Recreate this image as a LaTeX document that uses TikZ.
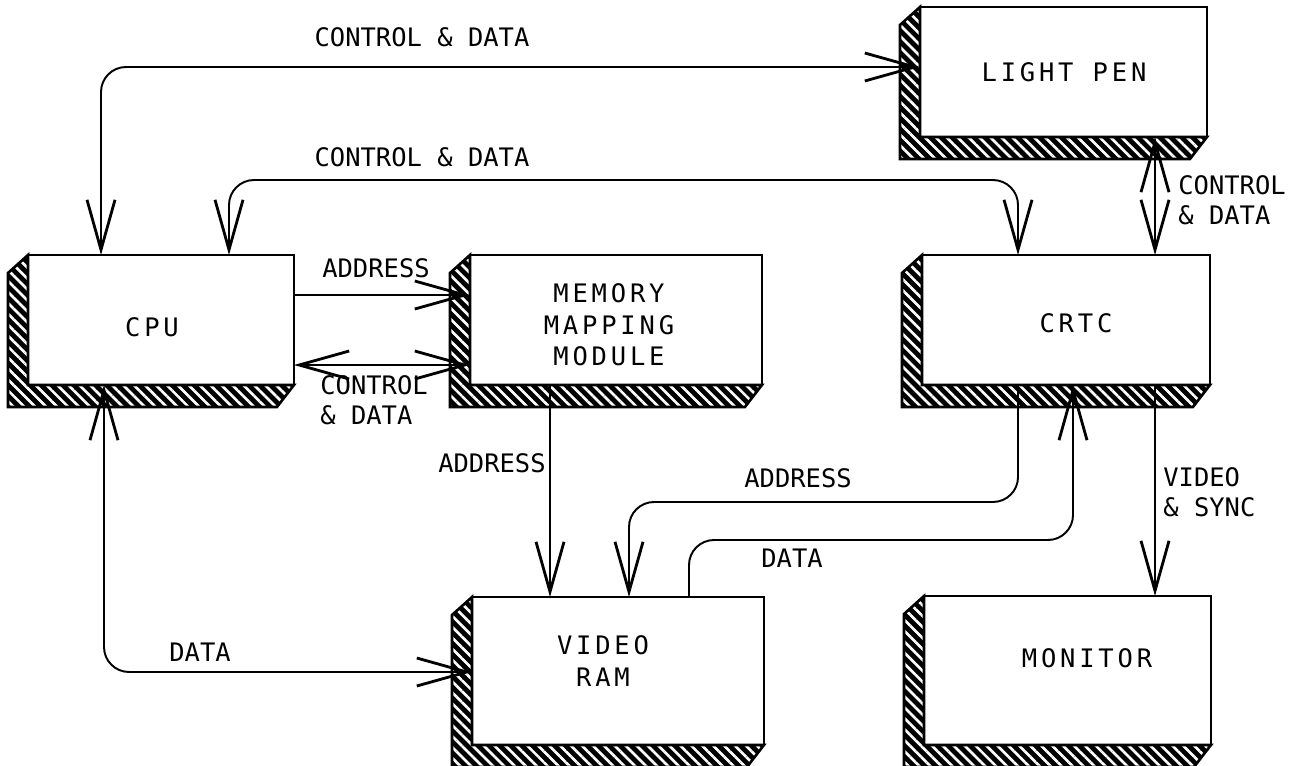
\documentclass[tikz,border=0pt]{standalone}
\usepackage{fontspec}
\usetikzlibrary{arrows.meta,patterns.meta}
\newfontfamily\lblfont{DejaVu Sans Mono}
\newfontfamily\boxfont[LetterSpace=15]{DejaVu Sans Mono}

\tikzset{
  block/.style={draw=black, line width=1.4pt, fill=white, inner sep=0pt,
    outer sep=0pt, anchor=north west},
  blocktext/.style={font=\boxfont\fontsize{14.5pt}{18pt}\selectfont,
    align=center, inner sep=0pt},
  lbl/.style={font=\lblfont\fontsize{14.5pt}{17pt}\selectfont,
    align=left, inner sep=0pt},
  hatch/.style={preaction={fill=black},
    pattern={Lines[angle=-45,distance=4.4pt,line width=1.5pt]},
    pattern color=white, draw=black, line width=1.5pt, line join=miter},
  conn/.style={line width=1.1pt, rounded corners=0.5cm,
    >={Straight Barb[length=1.0cm,width=0.56cm,line width=1.6pt]}},
}

% hatched depth on the left and bottom of a block
\newcommand\blockdepth[1]{%
  \path[hatch] (#1.north west) -- ([shift={(-20,18)}]#1.north west)
    -- ([shift={(-20,22)}]#1.south west) -- ([shift={(-17,22)}]#1.south east)
    -- (#1.south east) -- (#1.south west) -- cycle;}

\begin{document}
\begin{tikzpicture}[x=0.02cm, y=-0.02cm]
  \fill[white] (0,0) rectangle (1300,765);
  \useasboundingbox (0,0) rectangle (1300,765);

  % blocks
  \node[block, minimum width=5.32cm, minimum height=2.6cm]  (cpu)  at (28,255) {};
  \node[block, minimum width=5.84cm, minimum height=2.6cm]  (mmm)  at (470,255) {};
  \node[block, minimum width=5.76cm, minimum height=2.6cm]  (crtc) at (922,255) {};
  \node[block, minimum width=5.74cm, minimum height=2.6cm]  (pen)  at (920,7) {};
  \node[block, minimum width=5.84cm, minimum height=2.96cm] (vram) at (472,597) {};
  \node[block, minimum width=5.74cm, minimum height=2.98cm] (mon)  at (924,596) {};

  \blockdepth{cpu}
  \blockdepth{mmm}
  \blockdepth{crtc}
  \blockdepth{pen}
  \blockdepth{vram}
  \blockdepth{mon}

  % block titles
  \node[blocktext] (cpu-t)  at (152,327)  {CPU};
  \node[blocktext] (mmm-t)  at (609,325)  {MEMORY\\MAPPING\\MODULE};
  \node[blocktext] (crtc-t) at (1076,323) {CRTC};
  \node[blocktext] (pen-t)  at (1064,72)  {LIGHT PEN};
  \node[blocktext] (vram-t) at (603,661)  {VIDEO\\RAM};
  \node[blocktext] (mon-t)  at (1087,658) {MONITOR};

  % CPU <-> light pen
  \draw[conn,<->] ([shift={(73,0)}]cpu.north west) -- ++(0,-188)
    -- ([shift={(0,60)}]pen.north west);
  % CPU <-> CRTC
  \draw[conn,<->] ([shift={(201,0)}]cpu.north west) -- ++(0,-75)
    -- ([shift={(96,-75)}]crtc.north west) -- ([shift={(96,0)}]crtc.north west);
  % light pen <-> CRTC
  \draw[conn,<->] ([shift={(235,0)}]pen.south west) -- ([shift={(233,0)}]crtc.north west);
  % CPU -> memory mapping module
  \draw[conn,->] ([shift={(0,40)}]cpu.north east) -- ([shift={(0,40)}]mmm.north west);
  \draw[conn,<->] ([shift={(0,110)}]cpu.north east) -- ([shift={(0,110)}]mmm.north west);
  % memory mapping module -> video RAM
  \draw[conn,->] ([shift={(80,0)}]mmm.south west) -- ([shift={(78,0)}]vram.north west);
  % CRTC -> video RAM (address)
  \draw[conn,->] ([shift={(96,0)}]crtc.south west) -- ++(0,117)
    -- ([shift={(157,-95)}]vram.north west) -- ([shift={(157,0)}]vram.north west);
  % video RAM -> CRTC (data)
  \draw[conn,->] ([shift={(217,0)}]vram.north west) -- ++(0,-57)
    -- ([shift={(151,155)}]crtc.south west) -- ([shift={(151,0)}]crtc.south west);
  % CRTC -> monitor
  \draw[conn,->] ([shift={(233,0)}]crtc.south west) -- ([shift={(231,0)}]mon.north west);
  % CPU <-> video RAM
  \draw[conn,<->] ([shift={(76,0)}]cpu.south west) -- ++(0,287)
    -- ([shift={(0,75)}]vram.north west);

  % connector labels
  \node[lbl] (l-pen)   at (422,37)  {CONTROL \& DATA};
  \node[lbl] (l-crtc)  at (422,157) {CONTROL \& DATA};
  \node[lbl, anchor=west] (l-pc) at (1178,200) {CONTROL\\\& DATA};
  \node[lbl] (l-addr1) at (376,268) {ADDRESS};
  \node[lbl, anchor=west] (l-cd) at (320,400) {CONTROL\\\& DATA};
  \node[lbl, anchor=east] (l-addr2) at (546,463) {ADDRESS};
  \node[lbl] (l-addr3) at (798,478) {ADDRESS};
  \node[lbl] (l-data1) at (792,558) {DATA};
  \node[lbl, anchor=west] (l-vs) at (1163,492) {VIDEO\\\& SYNC};
  \node[lbl] (l-data2) at (200,652) {DATA};
\end{tikzpicture}
\end{document}
